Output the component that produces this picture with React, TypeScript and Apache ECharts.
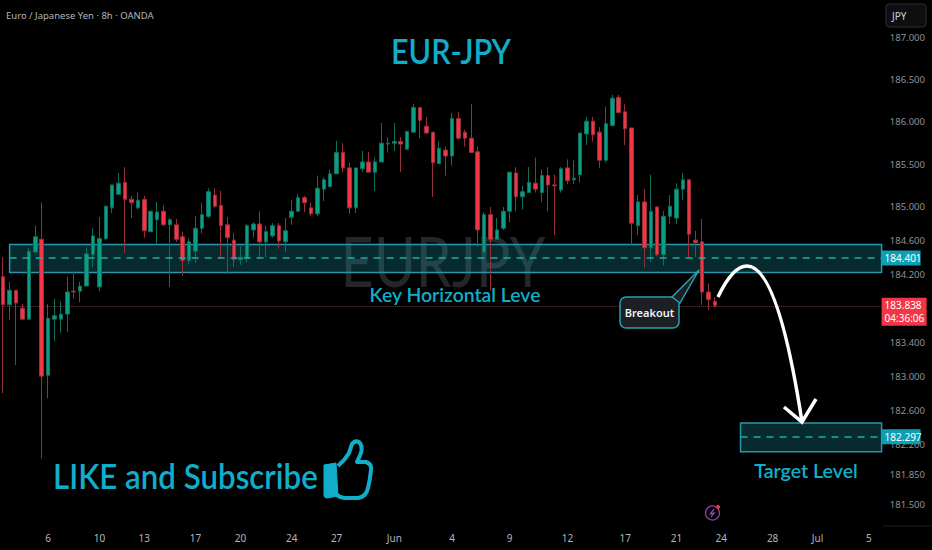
import React, { useEffect, useRef } from "react";
import * as echarts from "echarts";

// [open, close, low, high]
const candlesA = [
  [184.18,183.85,182.81,184.41],[183.85,184.02,183.67,184.12],[184.02,183.87,183.14,184.02],[183.81,183.68,183.68,183.86],
  [183.68,184.48,183.68,184.52],[184.47,184.65,184.47,184.78],[184.62,183.01,182.04,185.05],[183.02,183.69,182.75,183.86],
  [183.68,183.72,183.42,183.92],[183.68,183.74,183.52,183.89],[183.74,184.00,183.53,184.18],[184.01,184.00,183.92,184.24],
  [184.01,184.07,183.88,184.12],[184.07,184.45,184.07,184.52],[184.44,184.66,184.29,184.75],[184.06,184.63,184.01,184.88],
  [184.63,185.01,184.61,185.01],[184.99,185.26,184.93,185.26],[185.15,185.28,185.15,185.40],[185.29,185.09,184.46,185.47],
  [185.09,185.05,184.87,185.13],[184.99,185.08,184.97,185.17],[185.09,184.72,184.64,185.13],[184.71,184.95,184.71,184.95],
  [184.85,184.94,184.56,185.06],[184.95,184.79,184.78,185.02],[184.79,184.85,184.06,184.87],[184.79,184.62,184.59,184.86],
  [184.65,184.37,184.19,184.71],[184.37,184.59,184.33,184.63],[184.48,184.75,184.34,184.89],[184.75,184.91,184.69,185.05],
  [184.89,185.18,184.87,185.22],[185.14,185.01,184.99,185.22],[185.02,184.78,184.39,185.19],[184.79,184.64,184.22,184.88],
  [184.61,184.38,184.29,184.69],[184.38,184.41,184.32,184.54],[184.40,184.78,184.35,184.80],[184.73,184.80,184.64,184.82],
  [184.80,184.59,184.41,184.95],[184.59,184.71,184.41,184.78],[184.66,184.78,184.64,184.81],[184.78,184.60,184.51,184.81],
  [184.59,184.72,184.47,184.87],[184.88,184.95,184.79,185.08],[184.95,185.11,184.95,185.15],[185.11,185.05,184.94,185.13],
  [184.99,184.92,184.89,185.05],[184.92,185.22,184.89,185.37],[185.21,185.32,185.07,185.35],[185.24,185.39,185.24,185.44],
  [185.39,185.64,185.39,185.78],[185.64,185.46,185.41,185.75],
];
const candlesB = [
  [185.46,184.99,184.92,185.52],[184.99,185.46,184.93,185.46],[185.45,185.53,185.41,185.66],[185.53,185.41,185.41,185.65],
  [185.41,185.53,185.19,185.58],[185.53,185.75,185.53,185.99],[185.74,185.75,185.64,185.82],[185.75,185.77,185.66,185.99],
  [185.77,185.74,185.41,185.82],[185.68,185.89,185.68,185.89],[185.88,186.17,185.88,186.21],[186.17,186.02,185.81,186.17],
  [185.95,185.87,185.87,186.06],[185.88,185.52,185.12,185.88],[185.51,185.69,185.51,185.77],[185.67,185.60,185.37,185.71],
  [185.60,186.04,185.49,186.11],[186.04,185.81,185.79,186.12],[185.88,185.81,185.71,185.91],[185.81,185.64,185.64,186.21],
  [185.65,184.73,184.53,185.71],[184.47,184.91,184.44,184.94],[184.91,184.62,184.02,185.00],[184.62,184.73,184.62,184.87],
  [184.75,184.95,184.73,185.00],[184.95,185.41,184.82,185.41],[185.40,185.12,184.95,185.47],[185.12,185.18,184.97,185.25],
  [185.17,185.29,185.17,185.47],[185.28,185.21,185.17,185.58],[185.17,185.37,185.06,185.44],[185.37,185.26,184.95,185.47],
  [185.26,185.25,184.67,185.38],[185.20,185.45,185.17,185.47],[185.46,185.31,185.27,185.56],[185.32,185.34,185.27,185.55],
  [185.38,185.87,185.29,185.87],[185.86,186.01,185.73,186.06],[186.01,185.85,185.77,186.06],[185.88,185.55,185.46,185.94],
  [185.55,185.98,185.52,186.18],[185.96,186.28,185.96,186.32],[186.29,186.11,186.11,186.32],[186.12,185.92,185.73,186.21],
  [185.93,184.81,184.55,185.93],[184.78,185.06,184.67,185.14],[185.06,184.52,184.29,185.21],[184.52,184.95,184.35,185.38],
  [185.00,184.44,184.42,185.01],[184.44,184.89,184.31,184.95],[184.89,185.01,184.80,185.14],[184.87,185.21,184.80,185.28],
  [185.21,185.32,185.08,185.40],[185.32,184.68,184.41,185.32],[184.61,184.58,184.41,184.72],[184.59,184.00,183.85,184.86],
  [184.00,183.91,183.79,184.10],[183.89,183.84,183.82,183.94],
];
const candles = [...candlesA, ...candlesB];

const barCount = 138;
const tickBars = [7, 15, 22, 30, 37, 45, 52, 61, 70, 79, 88, 97, 105, 112, 120, 127, 135];
const tickLabels = ["6", "10", "13", "17", "20", "24", "27", "Jun", "4", "9", "12", "17", "21", "24", "28", "Jul", "5"];
const categories = Array.from({ length: barCount }, (_, i) => "bar" + i);

const priceTicks = [181.5, 181.85, 182.2, 182.6, 183, 183.4, 184.2, 184.6, 185, 185.5, 186, 186.5, 187];
const keyZone = [184.23, 184.56];
const keyLevel = 184.401;
const targetZone = [182.12, 182.46];
const targetLevel = 182.297;
const lastPrice = 183.838;
const countdown = "04:36:06";

const UP = "#0a9f85";
const DOWN = "#f23645";
const UP_WICK = "#0f6f5e";
const DOWN_WICK = "#98303a";
const CYAN = "#10aecb";
const FONT = "'Noto Sans', sans-serif";
const LOGO_FONT = "Lato, sans-serif";

echarts.graphic.registerShape(
  "thumbCuff",
  echarts.graphic.extendPath(
    "M324 465 L336 463 L338 496 L327 498 Q324 498 324 495 Z",
    {}
  ) as any
);
echarts.graphic.registerShape(
  "thumbHand",
  echarts.graphic.extendPath(
    "M338 466 Q345 460 349 453 Q351 447 352 444 Q355 440 359 442 Q363 446 361 453 Q359 458 357 462 L366 462 Q372 464 371 470 Q370 480 368 488 Q366 497 358 498 L346 498 Q340 498 336 494",
    {}
  ) as any
);

function tagLabel(text: string, bg: string, width: number, offsetY = 0) {
  return {
    show: true,
    position: "end",
    distance: 0,
    offset: [0, offsetY],
    formatter: text,
    color: "#fff",
    fontFamily: FONT,
    fontSize: 10,
    lineHeight: 13,
    backgroundColor: bg,
    padding: [1, 3],
    width,
    align: "left",
  };
}

export default function App() {
  const ref = useRef<HTMLDivElement>(null);
  useEffect(() => {
    const chart = echarts.init(ref.current!, null, { renderer: "svg", width: 932, height: 550 });
    const zoneStyle = {
      color: "rgba(24,150,170,0.28)",
      borderColor: "#2b96aa",
      borderWidth: 1.5,
    };
    const dash = { color: "#1bb0a8", width: 1.5, type: [7, 6] };
    chart.setOption({
      animation: false,
      backgroundColor: "#000000",
      grid: { left: -1.2, top: 0, width: 886, height: 526 },
      xAxis: {
        type: "category",
        data: categories,
        axisLine: { show: false },
        axisTick: { show: false },
        splitLine: { show: false },
        axisLabel: {
          interval: (i: number) => tickBars.includes(i),
          formatter: (_: string, i: number) => tickLabels[tickBars.indexOf(i)] ?? "",
          color: "#b2b5be",
          fontFamily: FONT,
          fontSize: 10,
          margin: 7,
        },
      },
      yAxis: {
        type: "value",
        position: "right",
        min: 181.247,
        max: 187.4353,
        axisLine: { show: false },
        axisTick: { show: false },
        splitLine: { show: false },
        axisLabel: {
          customValues: priceTicks,
          formatter: (v: number) => v.toFixed(3),
          color: "#8f929a",
          fontFamily: FONT,
          fontSize: 9.5,
          margin: 5,
          showMinLabel: true,
          showMaxLabel: true,
        },
      },
      series: [
        {
          type: "candlestick",
          data: candles,
          barWidth: 4,
          clip: false,
          itemStyle: {
            color: UP,
            color0: DOWN,
            borderColor: UP_WICK,
            borderColor0: DOWN_WICK,
            borderWidth: 1,
          },
          markArea: {
            silent: true,
            data: [
              [
                { xAxis: 1, yAxis: keyZone[1], itemStyle: zoneStyle },
                { xAxis: barCount - 1, yAxis: keyZone[0] },
              ],
              [
                { xAxis: 115, yAxis: targetZone[1], itemStyle: zoneStyle },
                { xAxis: barCount - 1, yAxis: targetZone[0] },
              ],
            ],
          },
          markLine: {
            silent: true,
            symbol: "none",
            precision: 3,
            data: [
              [
                { coord: [0, lastPrice], lineStyle: { color: "rgba(242,54,69,0.65)", width: 1, type: "dotted" },
                  label: tagLabel(lastPrice.toFixed(3) + "\n" + countdown, DOWN, 39, 6) },
                { coord: [barCount - 1, lastPrice] },
              ],
              [
                { coord: [1, keyLevel], lineStyle: dash, label: tagLabel(keyLevel.toFixed(3), "#0f9fb3", 33) },
                { coord: [barCount - 1, keyLevel] },
              ],
              [
                { coord: [115, targetLevel], lineStyle: dash, label: tagLabel(targetLevel.toFixed(3), "#0f9fb3", 33) },
                { coord: [barCount - 1, targetLevel] },
              ],
            ],
          },
        },
      ],
      graphic: [
        { type: "text", z: -1, silent: true, x: 443, y: 260, scaleX: 0.82, style: { text: "EURJPY", fill: "#252628", font: `400 70px ${LOGO_FONT}`, align: "center", verticalAlign: "middle" } },
        { type: "text", x: 6, y: 15, style: { text: "Euro / Japanese Yen · 8h · OANDA", fill: "#b2b5be", font: `9.5px ${FONT}`, verticalAlign: "middle" } },
        { type: "rect", shape: { x: 886, y: 4, width: 40, height: 23, r: 3 }, style: { fill: "#0d0e10", stroke: "#2c2e33", lineWidth: 1 } },
        { type: "text", x: 892, y: 15.5, style: { text: "JPY", fill: "#d1d4dc", font: `10px ${FONT}`, verticalAlign: "middle" } },
        { type: "text", z: 100, x: 451, y: 51, scaleX: 0.9, style: { text: "EUR-JPY", fill: CYAN, font: `600 34px ${LOGO_FONT}`, align: "center", verticalAlign: "middle" } },
        { type: "text", z: 100, x: 455, y: 294, scaleX: 0.97, style: { text: "Key Horizontal Leve", fill: CYAN, font: `600 20px ${LOGO_FONT}`, align: "center", verticalAlign: "middle" } },
        { type: "text", z: 100, x: 806, y: 470, scaleX: 0.98, style: { text: "Target Level", fill: CYAN, font: `600 20px ${LOGO_FONT}`, align: "center", verticalAlign: "middle" } },
        { type: "text", z: 100, x: 53, y: 476, scaleX: 0.92, style: { text: "LIKE and Subscribe", fill: CYAN, font: `600 34px ${LOGO_FONT}`, verticalAlign: "middle" } },
        { type: "thumbCuff", z: 100, style: { fill: CYAN, stroke: CYAN, lineWidth: 1 } },
        { type: "thumbHand", z: 100, style: { fill: "none", stroke: CYAN, lineWidth: 4, lineJoin: "round" } },
        { type: "polygon", z: 100, shape: { points: [[672, 297], [699, 270], [680, 303]] }, style: { fill: "#1c1f24", stroke: "#2b9fb2", lineWidth: 1.5 } },
        { type: "rect", z: 99, shape: { x: 620, y: 297, width: 59, height: 31, r: 6 }, style: { fill: "#1c1f24", stroke: "#2b9fb2", lineWidth: 1.5 } },
        { type: "text", z: 101, x: 649.5, y: 312, style: { text: "Breakout", fill: "#f0f3fa", font: `600 11px ${FONT}`, align: "center", verticalAlign: "middle" } },
        { type: "bezierCurve", z: 100, shape: { x1: 718, y1: 297, cpx1: 727, cpy1: 278, cpx2: 737, cpy2: 266, x2: 747, y2: 266 }, style: { fill: "none", stroke: "#fff", lineWidth: 3.5 } },
        { type: "bezierCurve", z: 100, shape: { x1: 747, y1: 266, cpx1: 770, cpy1: 266, cpx2: 788, cpy2: 331, x2: 802, y2: 422 }, style: { fill: "none", stroke: "#fff", lineWidth: 3.5 } },
        { type: "polyline", z: 100, shape: { points: [[784, 407], [802, 422], [816, 399]] }, style: { fill: "none", stroke: "#fff", lineWidth: 3.5 } },
        { type: "circle", z: 100, shape: { cx: 712.5, cy: 513, r: 7 }, style: { fill: "none", stroke: "#8e44ad", lineWidth: 1.3 } },
        { type: "polyline", z: 100, shape: { points: [[714, 509], [710.5, 514], [714, 513], [711, 517]] }, style: { fill: "none", stroke: "#a64fd0", lineWidth: 1.2 } },
        { type: "circle", z: 101, shape: { cx: 718, cy: 507, r: 2 }, style: { fill: DOWN } },
        { type: "line", shape: { x1: 883, y1: 526, x2: 932, y2: 526 }, style: { stroke: "#1d1f23", lineWidth: 1 } },
      ],
    });
    return () => chart.dispose();
  }, []);
  return <div ref={ref} style={{ width: 932, height: 550, position: "absolute", left: 0, top: 0 }} />;
}
